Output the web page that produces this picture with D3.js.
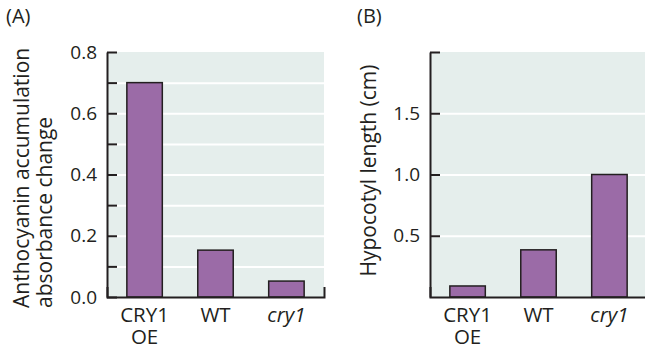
<!DOCTYPE html>
<html>
<head>
<meta charset="utf-8">
<script src="https://cdn.jsdelivr.net/npm/d3@7"></script>
<style>
  body { margin: 0; background: #fff; }
  text { font-family: "Open Sans", "Noto Sans", sans-serif; fill: #231f20; }
</style>
</head>
<body>
<div id="chart"></div>
<script>
const categories = ['CRY1 OE', 'WT', 'cry1'];
const anthocyanin = [0.70, 0.153, 0.052];
const hypocotyl = [0.09, 0.385, 1.0];
const ticksA = [0.0, 0.1, 0.2, 0.3, 0.4, 0.5, 0.6, 0.7, 0.8];
const labelsA = [0.0, 0.2, 0.4, 0.6, 0.8];
const ticksB = [0.5, 1.0, 1.5, 2.0];
const labelsB = [0.5, 1.0, 1.5];

const w = 645;
const h = 349;
const bg = '#e5eeec';
const barFill = '#9b6ba7';
const ink = '#231f20';

const svg = d3.select('#chart').append('svg').attr('width', w).attr('height', h);

function drawPanel(o) {
  const g = svg.append('g').attr('transform', `translate(${o.left}, 52)`);
  const pw = 217;
  const ph = 245;

  const y = d3.scaleLinear().domain([0, o.max]).range([ph, 0]);
  const x = d3.scaleBand().domain(categories).range([0, pw]).paddingInner(0.5).paddingOuter(0.28);

  g.append('rect').attr('width', pw).attr('height', ph).attr('fill', bg);

  // GRID ------------------------
  g.append('g')
    .call(d3.axisLeft(y).tickValues(o.grid).tickSize(-pw).tickFormat(''))
    .call((s) => s.select('.domain').remove())
    .selectAll('line').attr('stroke', '#fff').attr('stroke-width', 2);

  // BARS ------------------------
  g.selectAll('rect.bar')
    .data(o.values)
    .enter()
    .append('rect')
    .attr('class', 'bar')
    .attr('x', (d, i) => x(categories[i]))
    .attr('y', (d) => y(d))
    .attr('width', x.bandwidth())
    .attr('height', (d) => ph - y(d))
    .attr('fill', barFill)
    .attr('stroke', ink)
    .attr('stroke-width', 1.5);

  // AXES ------------------------
  const gy = g.append('g')
    .call(d3.axisLeft(y).tickValues(o.ticks).tickSizeInner(-10).tickSizeOuter(0).tickPadding(10)
      .tickFormat((d) => (o.labels.some((l) => Math.abs(l - d) < 1e-9) ? d3.format('.1f')(d) : '')));
  gy.select('.domain').attr('stroke', ink).attr('stroke-width', 2);
  gy.selectAll('line').attr('stroke', ink).attr('stroke-width', 2);
  gy.selectAll('text').style('font-size', '19px').style('font-family', '"Open Sans", sans-serif').attr('fill', ink);

  const gx = g.append('g').attr('transform', `translate(0, ${ph})`)
    .call(d3.axisBottom(x).tickSizeInner(0).tickSizeOuter(-10).tickFormat(''));
  gx.select('.domain').attr('stroke', ink).attr('stroke-width', 2);

  // two-line labels are split into separate texts
  categories.forEach((c) => {
    const parts = c === 'CRY1 OE' ? ['CRY1', 'OE'] : [c];
    parts.forEach((p, j) => {
      g.append('text')
        .attr('x', x(c) + x.bandwidth() / 2)
        .attr('y', ph + 25 + j * 22)
        .attr('text-anchor', 'middle')
        .style('font-size', '20.5px')
        .style('font-style', c === 'cry1' ? 'italic' : 'normal')
        .text(p);
    });
  });

  // LABELS ----------------------
  svg.append('text')
    .attr('x', o.tagX)
    .attr('y', 23)
    .style('font-size', '20px')
    .text(o.tag);

  o.title.forEach((line, j) => {
    svg.append('text')
      .attr('transform', `translate(${o.titleX[j]}, ${o.titleY}) rotate(-90)`)
      .attr('text-anchor', o.titleAnchor)
      .style('font-size', '21px')
      .text(line);
  });
}

drawPanel({
  left: 107,
  max: 0.8,
  values: anthocyanin,
  grid: ticksA.slice(1, -1),
  ticks: ticksA,
  labels: labelsA,
  tag: '(A)',
  tagX: 6,
  title: ['Anthocyanin accumulation', 'absorbance change'],
  titleX: [28.5, 52],
  titleY: 308,
  titleAnchor: 'start',
});

drawPanel({
  left: 430,
  max: 2.0,
  values: hypocotyl,
  grid: ticksB.slice(0, -1),
  ticks: ticksB,
  labels: labelsB,
  tag: '(B)',
  tagX: 357,
  title: ['Hypocotyl length (cm)'],
  titleX: [376],
  titleY: 170.5,
  titleAnchor: 'middle',
});
</script>
</body>
</html>
